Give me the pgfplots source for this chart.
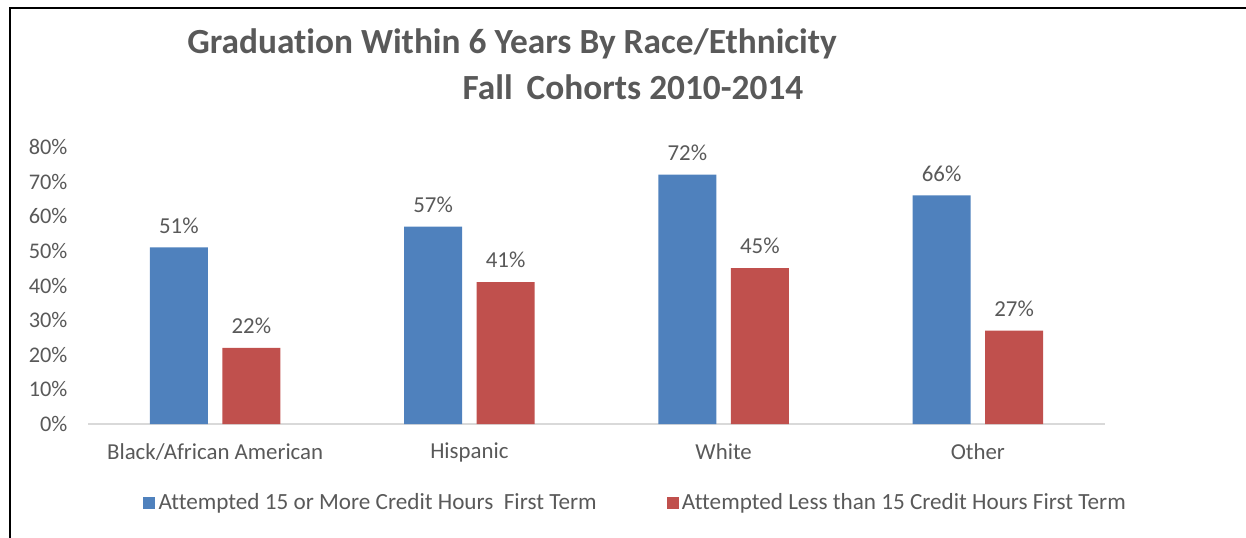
\documentclass[border=0pt]{standalone}
\usepackage{pgfplots}
\pgfplotsset{compat=1.18}
\usepackage{fontspec}
\setmainfont[RawFeature={-liga}]{Carlito}
\definecolor{txt}{HTML}{595959}
\definecolor{cblue}{HTML}{4F81BD}
\definecolor{cred}{HTML}{C0504D}
\definecolor{axgray}{HTML}{D9D9D9}
\begin{document}
\begin{tikzpicture}
\useasboundingbox (0,0) rectangle (747.6pt,-322.8pt);
\draw[line width=1.2pt, black] (5.7pt,-322.8pt) -- (5.7pt,-5.1pt) -- (747.6pt,-5.1pt);
\node[font=\fontsize{21.2pt}{24pt}\selectfont\bfseries, text=txt, anchor=center] at ({512*0.6pt},{-44*0.6pt}) {Graduation Within 6 Years By Race/Ethnicity};
\node[font=\fontsize{21.2pt}{24pt}\selectfont\bfseries, text=txt, anchor=center] at ({633*0.6pt},{-87*0.6pt}) {Fall\, Cohorts 2010-2014};
\begin{axis}[
  at={({88*0.6pt},{-424*0.6pt})}, anchor=south west,
  scale only axis, width=610.2pt, height=166.2pt,
  ybar=8.7pt, bar width=34.8pt,
  xmin=-0.5, xmax=3.5, ymin=0, ymax=80,
  axis y line*=left, axis x line*=bottom,
  y axis line style={draw=none},
  x axis line style={axgray, line width=1pt, -},
  xtick={0,1,2,3},
  xticklabels={Black/African American, Hispanic, White, Other},
  ytick={0,10,...,80},
  yticklabels={0\%,10\%,20\%,30\%,40\%,50\%,60\%,70\%,80\%},
  yticklabel style={font=\fontsize{13.4pt}{15pt}\selectfont, text=txt, xshift=-8.8pt},
  major tick length=0pt,
  tick style={draw=none},
  xticklabel style={font=\fontsize{13.7pt}{15pt}\selectfont, text=txt, yshift=-8pt},
  every node near coord/.append style={font=\fontsize{13.7pt}{15pt}\selectfont, text=txt, yshift=5pt},
  nodes near coords={\pgfmathprintnumber{\pgfplotspointmeta}\%},
  /pgf/number format/assume math mode=true,
  legend style={at={(0.539,-0.285)}, anchor=center, draw=none, fill=none,
    font=\fontsize{13.9pt}{15pt}\selectfont, text=txt,
    legend columns=2, /tikz/every even column/.append style={column sep=40pt}},
  legend image code/.code={\fill[#1] (-2pt,-3.6pt) rectangle (5.2pt,3.6pt);},
  clip=false,
]
\addplot[fill=cblue, draw=none] coordinates {(0,51) (1,57) (2,72) (3,66)};
\addplot[fill=cred, draw=none] coordinates {(0,22) (1,41) (2,45) (3,27)};
\legend{Attempted 15 or More Credit Hours\ \ First Term, Attempted Less than 15 Credit Hours First Term}
\end{axis}
\end{tikzpicture}
\end{document}
